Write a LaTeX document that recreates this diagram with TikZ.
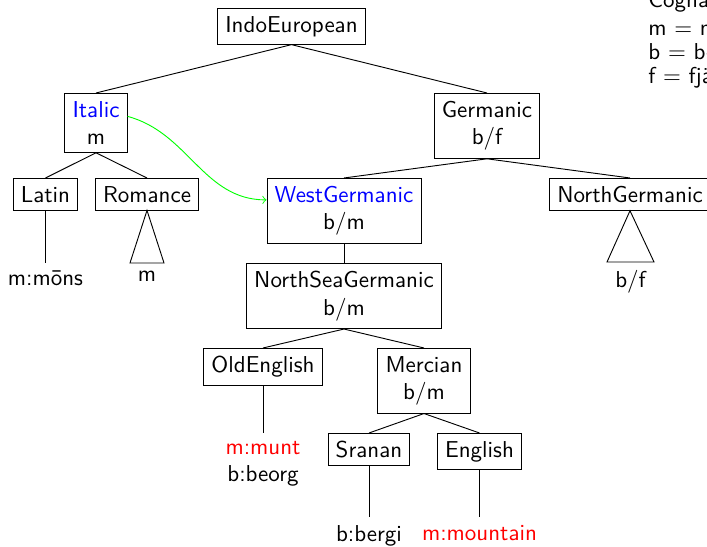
\documentclass[tikz,border=0pt]{standalone}
\usetikzlibrary{calc}
\renewcommand{\familydefault}{\sfdefault}
\begin{document}
\begin{tikzpicture}[x=0.435pt,y=-0.435pt,
  every node/.style={font=\sffamily},
  box/.style={draw,align=center,anchor=north},
  leaf/.style={align=center,anchor=north},
  borrow/.style={green,->}]
\useasboundingbox (0,0) rectangle (707,547);
% tree nodes
\node[box] (ie)  at (291.5,8) {IndoEuropean};
\node[box] (ita) at (96,93) {\textcolor{blue}{Italic}\\m};
\node[box] (ger) at (487,93) {Germanic\\b/f};
\node[box] (lat) at (45.5,178) {Latin};
\node[box] (rom) at (147,178) {Romance};
\node[box] (wg)  at (344,178) {\textcolor{blue}{WestGermanic}\\b/m};
\node[box] (ng)  at (630,178) {NorthGermanic};
\node[box] (nsg) at (344,263) {NorthSeaGermanic\\b/m};
\node[box] (oe)  at (263,348) {OldEnglish};
\node[box] (mer) at (424,348) {Mercian\\b/m};
\node[box] (sra) at (369,433) {Sranan};
\node[box] (eng) at (479.5,433) {English};
% edges
\draw (ie.south) -- (ita.north);
\draw (ie.south) -- (ger.north);
\draw (ita.south) -- (lat.north);
\draw (ita.south) -- (rom.north);
\draw (ger.south) -- (wg.north);
\draw (ger.south) -- (ng.north);
\draw (wg.south) -- (nsg.north);
\draw (nsg.south) -- (oe.north);
\draw (nsg.south) -- (mer.north);
\draw (mer.south) -- (sra.north);
\draw (mer.south) -- (eng.north);
% leaves
\coordinate (latend) at (45.5,263);
\draw (lat.south) -- (latend);
\node[leaf] (latleaf) at (latend) {m:mōns};
\coordinate (romL) at (130,263);
\coordinate (romR) at (164,263);
\draw (rom.south) -- (romL) -- (romR) -- cycle;
\node[leaf] (romleaf) at ($(romL)!0.5!(romR)$) {m};
\coordinate (ngL) at (607,262);
\coordinate (ngR) at (654,262);
\draw (ng.south) -- (ngL) -- (ngR) -- cycle;
\node[leaf] (ngleaf) at ($(ngL)!0.5!(ngR)$) {b/f};
\coordinate (oeend) at (263,433);
\draw (oe.south) -- (oeend);
\node[leaf] (oeleaf) at (oeend) {\textcolor{red}{m:munt}\\b:beorg};
\coordinate (sraend) at (369,517);
\draw (sra.south) -- (sraend);
\node[leaf] (sraleaf) at (sraend) {b:bergi};
\coordinate (engend) at (479.5,517);
\draw (eng.south) -- (engend);
\node[leaf] (engleaf) at (engend) {\textcolor{red}{m:mountain}};
% borrowing arrow
\draw[borrow] ($(ita.east)+(0,-6.5)$) to[out=-15,in=180] ($(wg.west)+(0,-11)$);
% legend
\node[align=left,anchor=north west,inner sep=0pt] (legend) at (648,-9)
  {Cognates:\\m = mountain\\[-1.6pt]b = berg\\[-1.6pt]f = fjäll};
\end{tikzpicture}
\end{document}
